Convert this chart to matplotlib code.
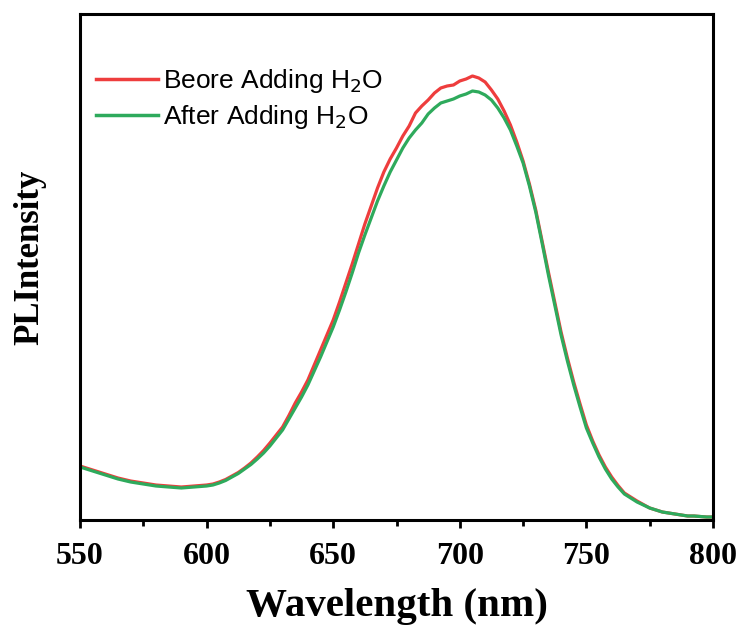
import numpy as np
import matplotlib
matplotlib.use('Agg')
import matplotlib.pyplot as plt
from matplotlib.ticker import MultipleLocator

# PL spectra sampled every 2.5 nm, intensity in a.u.
wavelength = np.arange(550, 800.1, 2.5)

after_h2o = [
    # 550 - 660
    530, 510, 490, 470, 450, 430, 410, 395, 380, 370, 360, 350, 340, 335, 330,
    325, 320, 325, 330, 335, 340, 350, 370, 395, 430, 465, 510, 555, 610, 670,
    740, 820, 900, 1010, 1120, 1230, 1350, 1490, 1630, 1780, 1930, 2100, 2280,
    2470, 2670,
    # 662.5 - 742.5
    2850, 3020, 3190, 3340, 3480, 3600, 3720, 3820, 3900, 3970, 4060, 4120,
    4170, 4190, 4210, 4240, 4260, 4290, 4280, 4250, 4200, 4120, 4020, 3900,
    3740, 3570, 3340, 3080, 2770, 2450, 2150, 1850, 1590,
    # 745 - 800
    1350, 1130, 920, 770, 630, 510, 410, 330, 260, 220, 180, 150, 120, 100,
    80, 70, 60, 50, 40, 40, 35, 30, 30,
]

before_h2o = [
    # 550 - 660
    540, 520, 500, 480, 460, 440, 420, 405, 390, 380, 370, 360, 350, 345, 340,
    335, 330, 335, 340, 345, 350, 360, 380, 405, 440, 475, 520, 570, 630, 695,
    770, 850, 930, 1045, 1170, 1280, 1400, 1550, 1700, 1850, 2000, 2180, 2370,
    2560, 2760,
    # 662.5 - 742.5
    2960, 3140, 3320, 3480, 3610, 3720, 3840, 3940, 4070, 4140, 4200, 4270,
    4320, 4340, 4350, 4390, 4410, 4440, 4420, 4380, 4300, 4210, 4090, 3950,
    3780, 3590, 3360, 3100, 2790, 2480, 2180, 1880, 1620,
    # 745 - 800
    1380, 1160, 950, 790, 650, 530, 430, 345, 270, 230, 190, 155, 120, 100,
    80, 70, 60, 50, 40, 40, 35, 30, 30,
]

plt.rcParams['font.family'] = 'Liberation Serif'

fig = plt.figure(figsize=(7.43, 6.33), dpi=100)
ax = fig.add_axes([0.1077, 0.1785, 0.8519, 0.7994])

ax.plot(wavelength, before_h2o, color='#ee3d3d', lw=2.3, label='Beore Adding H$_2$O')
ax.plot(wavelength, after_h2o, color='#2eaa5c', lw=2.3, label='After Adding H$_2$O')

ax.set_xlim(550, 800)
ax.set_ylim(0, 5060)
ax.xaxis.set_major_locator(MultipleLocator(50))
ax.xaxis.set_minor_locator(MultipleLocator(25))
ax.set_yticks([])
for s in ax.spines.values():
    s.set_linewidth(2.2)
ax.tick_params(axis='x', which='major', length=6, width=2, pad=10, labelsize=23)
ax.tick_params(axis='x', which='minor', length=4, width=2)
for lab in ax.get_xticklabels():
    lab.set_fontweight('bold')

ax.set_xlabel('Wavelength (nm)', fontsize=29.5, fontweight='bold', labelpad=12)
ax.set_ylabel('PLIntensity', fontsize=25, fontweight='bold')
ax.yaxis.set_label_coords(-0.053, 0.52)

leg = ax.legend(loc='upper left', bbox_to_anchor=(0.0, 0.927), frameon=False,
                prop={'family': 'Liberation Sans', 'size': 19},
                handlelength=2.35, handletextpad=0.2, labelspacing=0.33,
                borderaxespad=0.2)
for h in leg.get_lines():
    h.set_linewidth(2.5)

fig.savefig('out.png', dpi=100)
